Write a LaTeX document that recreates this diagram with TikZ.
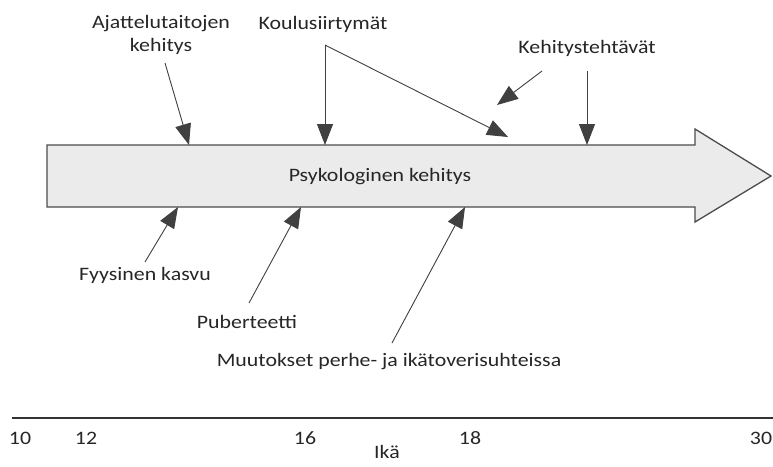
\documentclass[tikz,border=0pt]{standalone}
\usepackage{fontspec}
\setmainfont{Carlito}[FakeStretch=1.15]
\usetikzlibrary{arrows.meta, positioning}
\tikzset{
        lbl/.style={font=\fontsize{19}{23}\selectfont, text=black!85, inner sep=1pt, align=center}, % labels around the arrow
        pointer/.style={draw=black!75, line width=0.9pt, -{Triangle[length=21pt,width=16pt]}},
        age/.style={font=\fontsize{19}{23}\selectfont, text=black!85, inner sep=1pt},
    }

\begin{document}
\begin{tikzpicture}[x=1pt, y=-1pt]
    \useasboundingbox[fill=white] (0,0) rectangle (773,466);

    % big arrow
    \draw[fill=black!8, draw=black!70, line width=1.3pt]
        (47,145) -- (695,145) -- (695,129) -- (771,176)
        -- (695,222) -- (695,207) -- (47,207) -- cycle;
    \node[lbl] (psyk) at (380,177) {Psykologinen kehitys};

    % labels above
    \node[lbl] (ajat) at (161,35) {Ajattelutaitojen\\kehitys};
    \node[lbl] (koulu) at (323,24) {Koulusiirtymät};
    \node[lbl] (teht) at (587,48) {Kehitystehtävät};

    % labels below
    \node[lbl] (kasvu) at (145,275) {Fyysinen kasvu};
    \node[lbl] (puber) at (247,322) {Puberteetti};
    \node[lbl] (muut) at (389,362) {Muutokset perhe- ja ikätoverisuhteissa};

    % connector ends
    \coordinate (ajat-a) at (165,63);
    \coordinate (ajat-b) at (189,145);
    \coordinate (koulu-a) at (325,45);
    \coordinate (koulu-b) at (325,145);
    \coordinate (koulu-c) at (508,137);
    \coordinate (vapaa-a) at (542,71);
    \coordinate (vapaa-b) at (497,105);
    \coordinate (teht-a) at (587,71);
    \coordinate (teht-b) at (587,145);
    \coordinate (kasvu-a) at (145,262);
    \coordinate (kasvu-b) at (178,207);
    \coordinate (puber-a) at (249,303);
    \coordinate (puber-b) at (301,207);
    \coordinate (muut-a) at (392,343);
    \coordinate (muut-b) at (465,207);

    \draw[pointer] (ajat-a) -- (ajat-b);
    \draw[pointer] (koulu-a) -- (koulu-b);
    \draw[pointer] (koulu-a) -- (koulu-c);
    \draw[pointer] (vapaa-a) -- (vapaa-b);
    \draw[pointer] (teht-a) -- (teht-b);
    \draw[pointer] (kasvu-a) -- (kasvu-b);
    \draw[pointer] (puber-a) -- (puber-b);
    \draw[pointer] (muut-a) -- (muut-b);

    % age axis
    \coordinate (axis-l) at (12,418);
    \coordinate (axis-r) at (773,418);
    \draw[black!80, line width=1.3pt] (axis-l) -- (axis-r);
    \node[age] (a10) at (20,438) {10};
    \node[age] (a12) at (86,438) {12};
    \node[age] (a16) at (305,438) {16};
    \node[age] (a18) at (470,438) {18};
    \node[age] (a30) at (761,438) {30};
    \node[age] (ika) at (387,452) {Ikä};
\end{tikzpicture}
\end{document}
